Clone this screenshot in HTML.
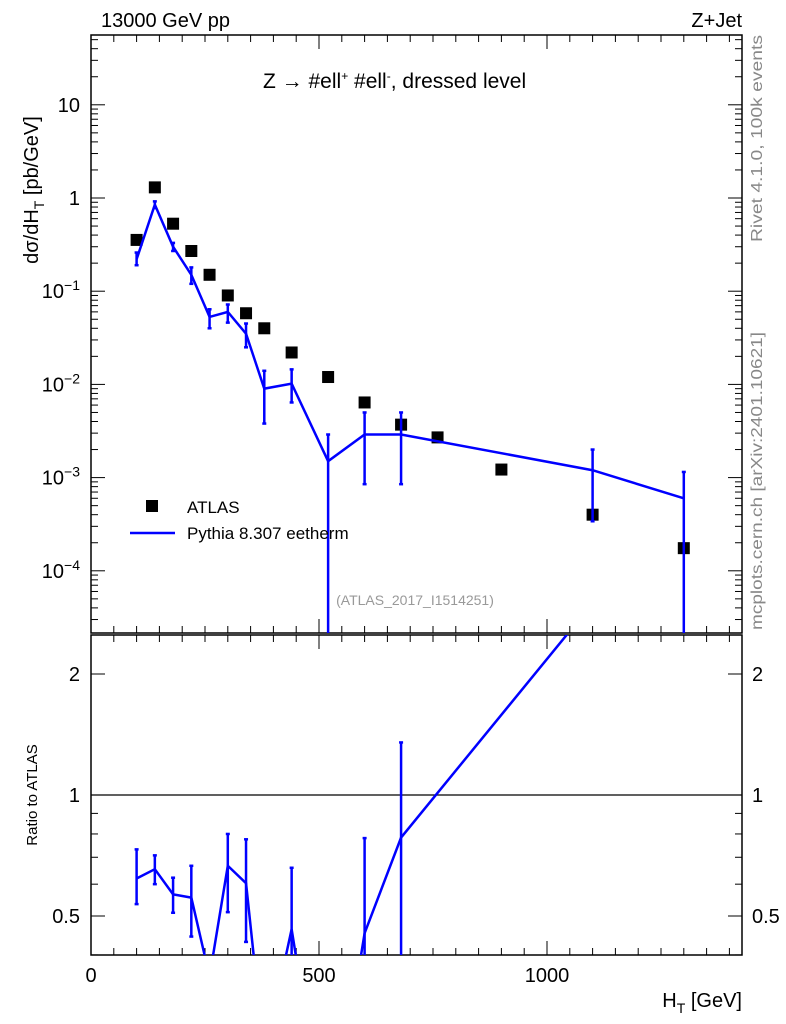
<!DOCTYPE html>
<html><head><meta charset="utf-8"><style>
html,body{margin:0;background:#fff;width:786px;height:1024px;overflow:hidden;}
svg{display:block;font-family:"Liberation Sans",sans-serif;}
</style></head><body>
<svg id="c" width="786" height="1024"></svg>
<script>
const xs=[100,140,180,220,260,300,340,380,440,520,600,680,760,900,1100,1300];
const dataY=[0.355,1.3,0.53,0.27,0.15,0.09,0.058,0.04,0.022,0.012,0.0064,0.0037,0.0027,0.00122,0.0004,0.000175];
const mcX=[100,140,180,220,260,300,340,380,440,520,600,680,1100,1300];
const mcY=[0.22,0.85,0.3,0.15,0.053,0.06,0.035,0.009,0.0102,0.0015,0.0029,0.0029,0.0012,0.0006];
const mcHi=[0.26,0.92,0.33,0.18,0.064,0.072,0.045,0.014,0.0145,0.0029,0.005,0.005,0.002,0.00115];
const mcLo=[0.19,0.78,0.27,0.12,0.04,0.046,0.025,0.0038,0.0064,0.000001,0.00085,0.00085,0.00034,0.000001];
const xTicks=[0,500,1000];
const yTickExp=[-4,-3,-2,-1,0,1];
const rTicks=[0.5,1,2];

const NS="http://www.w3.org/2000/svg";
const svg=document.getElementById('c');
function el(t,a,p){const e=document.createElementNS(NS,t);for(const k in a)e.setAttribute(k,a[k]);(p||svg).appendChild(e);return e;}
const X0=91,X1=742,T0=35,T1=633,R0=635,R1=955;
const sx=v=>X0+v*0.456;
const sy=v=>198-Math.log10(v)*93.2;
const sr=v=>795-Math.log2(v)*121;
const defs=el('defs',{});
const cp1=el('clipPath',{id:'cp1'},defs);el('rect',{x:X0,y:T0,width:X1-X0,height:T1-T0},cp1);
const cp2=el('clipPath',{id:'cp2'},defs);el('rect',{x:X0,y:R0,width:X1-X0,height:R1-R0},cp2);

let f=el('rect',{x:X0,y:T0,width:X1-X0,height:T1-T0,fill:'none',stroke:'#000','stroke-width':1.5});

f=el('rect',{x:X0,y:R0,width:X1-X0,height:R1-R0,fill:'none',stroke:'#000','stroke-width':1.5});


for(let v=0;v<=1400;v+=50){const px=sx(v);const L=(v%500===0)?14:7;
 [[T0,T0+L],[T1,T1-L],[R0,R0+L],[R1,R1-L]].forEach(p=>el('line',{x1:px,x2:px,y1:p[0],y2:p[1],stroke:'#000'}));}
xTicks.forEach(v=>{const t=el('text',{x:sx(v),y:982,'font-size':20,'text-anchor':'middle'});t.textContent=v;
 });
for(let e=-5;e<=1;e++)for(let m=1;m<10;m++){const v=m*Math.pow(10,e);const py=sy(v);if(py<T0||py>T1)continue;
 const L=m===1?14:7;el('line',{x1:X0,x2:X0+L,y1:py,y2:py,stroke:'#000'});el('line',{x1:X1,x2:X1-L,y1:py,y2:py,stroke:'#000'});}
yTickExp.forEach(e=>{const t=el('text',{x:80,y:sy(Math.pow(10,e))+7,'font-size':20,'text-anchor':'end'});
 
 if(e===0)t.textContent='1';else if(e===1)t.textContent='10';else{t.textContent='10';const s=el('tspan',{dy:-8,'font-size':14},t);s.textContent='−'+(-e);}});
[0.4,0.5,0.6,0.7,0.8,0.9,1,2].forEach(v=>{const py=sr(v);const L=(v===0.5||v===1||v===2)?14:7;
 el('line',{x1:X0,x2:X0+L,y1:py,y2:py,stroke:'#000'});el('line',{x1:X1,x2:X1-L,y1:py,y2:py,stroke:'#000'});});
rTicks.forEach(v=>{[[80,'end'],[752,'start']].forEach(p=>{const t=el('text',{x:p[0],y:sr(v)+7,'font-size':20,'text-anchor':p[1]});t.textContent=v;
 });});
el('line',{x1:X0,x2:X1,y1:sr(1),y2:sr(1),stroke:'#000','stroke-width':1.2});

const gD=el('g',{'clip-path':'url(#cp1)'});
xs.forEach((x,i)=>{const r=el('rect',{x:sx(x)-6,y:sy(dataY[i])-6,width:12,height:12,fill:'#000'},gD);
 });
const gM=el('g',{'clip-path':'url(#cp1)',stroke:'#0000ff',fill:'none','stroke-width':2.5});
let pl=el('polyline',{points:mcX.map((x,i)=>sx(x)+','+sy(mcY[i])).join(' ')},gM);

mcX.forEach((x,i)=>{const px=sx(x);const a=sy(mcHi[i]),b=sy(mcLo[i]);
 const l=el('line',{x1:px,x2:px,y1:a,y2:b},gM);
 el('line',{x1:px-2,x2:px+2,y1:a,y2:a},gM);el('line',{x1:px-2,x2:px+2,y1:b,y2:b},gM);});
const gR=el('g',{'clip-path':'url(#cp2)',stroke:'#0000ff',fill:'none','stroke-width':2.5});
const dAt=x=>dataY[xs.indexOf(x)];
pl=el('polyline',{points:mcX.map((x,i)=>sx(x)+','+sr(mcY[i]/dAt(x))).join(' ')},gR);

mcX.forEach((x,i)=>{const d=dAt(x);const c=mcY[i]/d;if(c<0.4||c>2.5)return;
 const px=sx(x);const a=sr(mcHi[i]/d),b=sr(mcLo[i]/d);
 const l=el('line',{x1:px,x2:px,y1:a,y2:b},gR);
 el('line',{x1:px-2,x2:px+2,y1:a,y2:a},gR);el('line',{x1:px-2,x2:px+2,y1:b,y2:b},gR);});

function txt(x,y,s,str,name,extra){const t=el('text',Object.assign({x:x,y:y,'font-size':s},extra||{}));t.textContent=str;
 return t;}
txt(101,27,20,'13000 GeV pp','header-left');
txt(742,27,20,'Z+Jet','header-right',{'text-anchor':'end'});
let t=txt(263,88,21,'Z  →  #ell','plot-title',{'xml:space':'preserve'});
let s=el('tspan',{dy:-8,'font-size':12},t);s.textContent='+';
s=el('tspan',{dy:8},t);s.textContent=' #ell';
s=el('tspan',{dy:-8,'font-size':12},t);s.textContent='-';
s=el('tspan',{dy:8},t);s.textContent=', dressed level';
txt(415,605,14,'(ATLAS_2017_I1514251)','analysis-id',{'text-anchor':'middle',fill:'#999'});
let r=el('rect',{x:146,y:500,width:12,height:12,fill:'#000'});
txt(187,513,17,'ATLAS','legend-atlas');
let l=el('line',{x1:130,x2:175,y1:533,y2:533,stroke:'#0000ff','stroke-width':2.5});
txt(187,539,17,'Pythia 8.307 eetherm','legend-pythia');
t=txt(0,0,20,'dσ/dH','y-axis-title',{transform:'translate(38,190) rotate(-90)','text-anchor':'middle'});
s=el('tspan',{dy:6,'font-size':14},t);s.textContent='T';s=el('tspan',{dy:-6},t);s.textContent=' [pb/GeV]';
t=txt(0,0,15,'Ratio to ATLAS','ratio-axis-title',{transform:'translate(37,795) rotate(-90)','text-anchor':'middle'});
t=txt(742,1007,20,'H','x-axis-title',{'text-anchor':'end'});s=el('tspan',{dy:6,'font-size':14},t);s.textContent='T';s=el('tspan',{dy:-6},t);s.textContent=' [GeV]';
txt(0,0,16,'Rivet 4.1.0,  100k events','rivet-label',{transform:'translate(762,242) rotate(-90)',fill:'#888',textLength:207,lengthAdjust:'spacingAndGlyphs'});
txt(0,0,16,'mcplots.cern.ch [arXiv:2401.10621]','mcplots-label',{transform:'translate(762,630) rotate(-90)',fill:'#888',textLength:298,lengthAdjust:'spacingAndGlyphs'});
</script>
</body></html>
